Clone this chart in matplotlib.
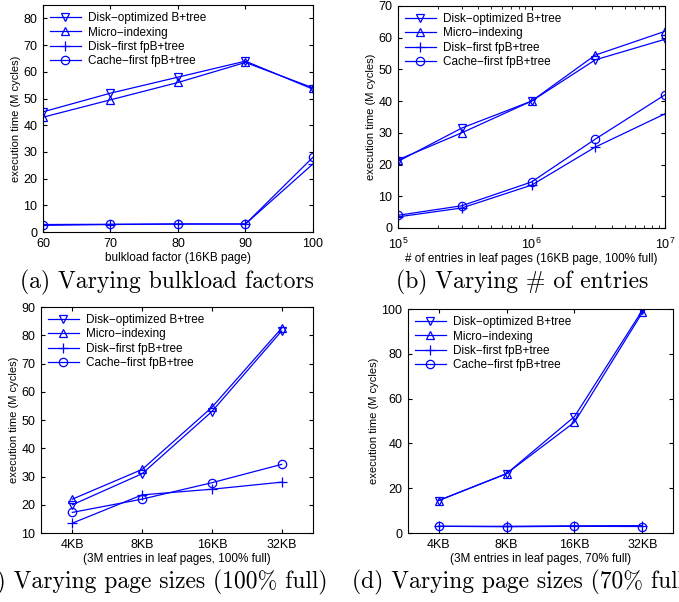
import numpy as np
import matplotlib
matplotlib.use('Agg')
import matplotlib.pyplot as plt

plt.rcParams['font.family'] = ['Liberation Sans', 'DejaVu Sans']
plt.rcParams['xtick.direction'] = 'in'
plt.rcParams['ytick.direction'] = 'in'
plt.rcParams['xtick.top'] = True
plt.rcParams['ytick.right'] = True

names = ['Disk\u2212optimized B+tree', 'Micro\u2212indexing',
         'Disk\u2212first fpB+tree', 'Cache\u2212first fpB+tree']
markers = ['v', '^', '+', 'o']

# (a) bulkload factor
bulk = [60, 70, 80, 90, 100]
a_dopt = [45, 52, 58, 64, 53.5]
a_micro = [43, 49.5, 56, 63.5, 54]
a_dfirst = [2.5, 2.8, 3, 3, 25.5]
a_cfirst = [2.8, 2.9, 3, 3, 28]

# (b) number of entries
entries = [1e5, 3e5, 1e6, 3e6, 1e7]
b_dopt = [21, 31.5, 40, 53, 59.5]
b_micro = [21.5, 30, 40, 54.5, 62]
b_dfirst = [3.5, 6.3, 13.5, 25.5, 36]
b_cfirst = [4, 7, 14.5, 28, 42]

# (c) page size, 100% full
pages = ['4KB', '8KB', '16KB', '32KB']
c_dopt = [20, 31, 53, 81.5]
c_micro = [22, 32.5, 54.5, 82.5]
c_dfirst = [13.5, 23.5, 25.5, 28]
c_cfirst = [17.3, 22, 27.8, 34.3]

# (d) page size, 70% full
d_dopt = [14.5, 26.5, 52, 99.5]
d_micro = [14.5, 26.5, 49.5, 98.5]
d_dfirst = [3, 3, 3.2, 3.3]
d_cfirst = [3, 2.8, 3, 2.9]

fig = plt.figure(figsize=(6.79, 6.02), dpi=100)

def panel(rect, x, series, xlabel, ylim, yticks):
    ax = fig.add_axes(rect)
    for ys, m, n in zip(series, markers, names):
        ax.plot(x, ys, color='#0000ff', lw=0.9, marker=m, ms=6 if m != '+' else 7,
                mfc='none', mew=0.9, label=n)
    ax.set_ylim(*ylim)
    ax.set_yticks(yticks)
    ax.set_xlabel(xlabel, fontsize=8.5, labelpad=2)
    ax.set_ylabel('execution time (M cycles)', fontsize=8, labelpad=2)
    ax.tick_params(labelsize=9, length=3)
    ax.tick_params(axis='x', pad=4)
    ax.tick_params(axis='y', pad=4)
    ax.tick_params(which='minor', length=2)
    ax.legend(loc='upper left', frameon=False, fontsize=8.5, handlelength=2.6,
              handletextpad=0.6, labelspacing=0.2, borderaxespad=0.2)
    return ax

ax = panel([0.0633, 0.6146, 0.3976, 0.377], bulk,
           [a_dopt, a_micro, a_dfirst, a_cfirst], 'bulkload factor (16KB page)',
           (0, 85), range(0, 81, 10))
ax.set_xlim(60, 100)
ax.set_xticks(bulk)

ax = panel([0.5862, 0.6213, 0.3932, 0.3688], entries,
           [b_dopt, b_micro, b_dfirst, b_cfirst],
           '# of entries in leaf pages (16KB page, 100% full)',
           (0, 70), range(0, 71, 10))
ax.set_xscale('log')
ax.set_xlim(1e5, 1e7)
ax.tick_params(axis='x', pad=6)
ax.set_xlabel(ax.get_xlabel(), fontsize=8.5, labelpad=1)

pos = np.arange(1, 5)
ax = panel([0.0604, 0.1146, 0.4006, 0.3754], pos,
           [c_dopt, c_micro, c_dfirst, c_cfirst],
           '(3M entries in leaf pages, 100% full)', (10, 90), range(10, 91, 10))
ax.set_xlim(0.55, 4.45)
ax.set_xticks(pos)
ax.set_xticklabels(pages)

ax = panel([0.6009, 0.1146, 0.3903, 0.372], pos,
           [d_dopt, d_micro, d_dfirst, d_cfirst],
           '(3M entries in leaf pages, 70% full)', (0, 100), range(0, 101, 20))
ax.set_xlim(0.55, 4.45)
ax.set_xticks(pos)
ax.set_xticklabels(pages)

cap = dict(fontsize=17, family='cmr10', ha='center', va='center')
fig.text(167 / 679, 0.531, '(a) Varying bulkload factors', **cap)
fig.text(522 / 679, 0.531, '(b) Varying # of entries', **cap)
fig.text(152 / 679, 0.032, '(c) Varying page sizes (100% full)', **cap)
fig.text(523 / 679, 0.032, '(d) Varying page sizes (70% full)', **cap)

fig.savefig('out.png', dpi=100)
